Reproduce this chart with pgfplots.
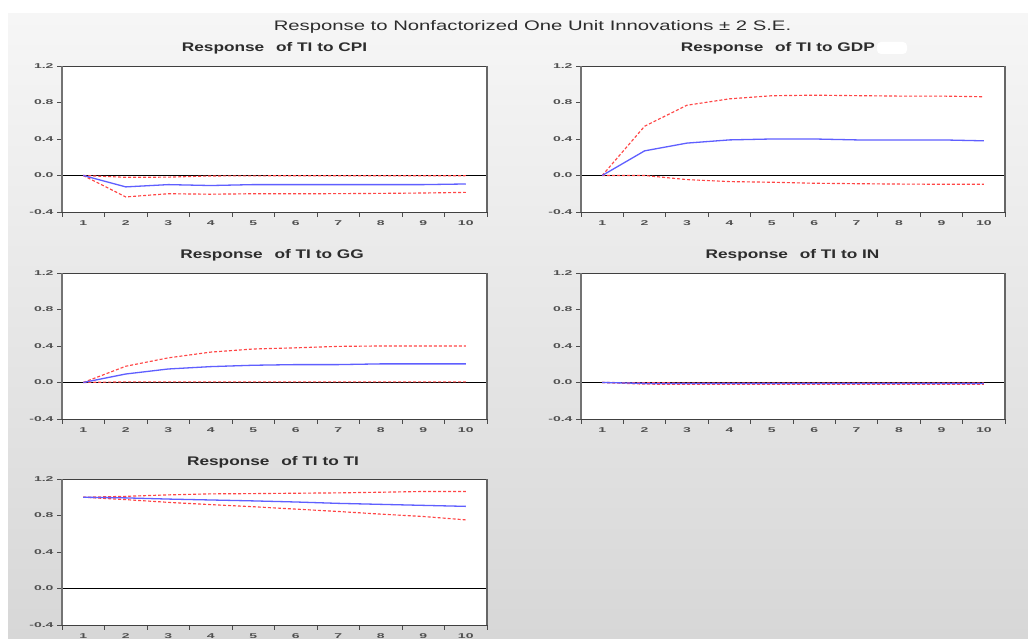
\documentclass[border=0pt]{standalone}
\usepackage{fontspec}
\setmainfont{Liberation Sans}
\newfontfamily\titlefont[FakeStretch=1.47]{Liberation Sans}
\newfontfamily\subfont[FakeStretch=1.38]{Liberation Sans}
\newfontfamily\tickfont[FakeStretch=2.0]{Liberation Sans}
\usepackage{pgfplots}
\usepackage{pgfplotstable}
\pgfplotsset{compat=1.18}
\definecolor{irfblue}{RGB}{95,95,255}
\definecolor{irfred}{RGB}{255,70,70}
\definecolor{tickgray}{RGB}{80,80,80}
\definecolor{titlegray}{RGB}{45,45,45}

% step  response  lower  upper
\pgfplotstableread{
x r lo hi
1 0 0 0
2 -0.125 -0.235 -0.020
3 -0.100 -0.200 -0.018
4 -0.110 -0.205 -0.005
5 -0.100 -0.200 -0.004
6 -0.100 -0.200 -0.003
7 -0.100 -0.199 -0.003
8 -0.100 -0.196 -0.003
9 -0.100 -0.192 -0.003
10 -0.093 -0.185 -0.002
}\cpi
\pgfplotstableread{
x r lo hi
1 0 0 0
2 0.270 0.000 0.540
3 0.355 -0.045 0.770
4 0.390 -0.067 0.840
5 0.400 -0.074 0.874
6 0.400 -0.085 0.880
7 0.390 -0.090 0.875
8 0.390 -0.094 0.870
9 0.390 -0.096 0.870
10 0.380 -0.096 0.863
}\gdp
\pgfplotstableread{
x r lo hi
1 0 0 0
2 0.093 0.007 0.178
3 0.148 0.007 0.270
4 0.174 0.007 0.333
5 0.189 0.007 0.367
6 0.196 0.007 0.380
7 0.196 0.007 0.396
8 0.204 0.007 0.400
9 0.204 0.007 0.400
10 0.204 0.007 0.400
}\gg
\pgfplotstableread{
x r lo hi
1 0 0 0
2 -0.010 -0.018 -0.003
3 -0.012 -0.020 -0.004
4 -0.012 -0.020 -0.004
5 -0.012 -0.020 -0.004
6 -0.012 -0.020 -0.004
7 -0.012 -0.020 -0.004
8 -0.012 -0.020 -0.004
9 -0.012 -0.020 -0.004
10 -0.012 -0.020 -0.004
}\inn
\pgfplotstableread{
x r lo hi
1 1.000 1.000 1.000
2 0.993 0.974 1.010
3 0.980 0.944 1.026
4 0.970 0.919 1.037
5 0.960 0.896 1.040
6 0.948 0.870 1.044
7 0.933 0.844 1.048
8 0.922 0.815 1.055
9 0.911 0.789 1.063
10 0.900 0.752 1.063
}\ti

\pgfplotsset{
  irf/.style={
    scale only axis, width=425pt, height=146pt, anchor=south west,
    xmin=0.5, xmax=10.5, ymin=-0.4, ymax=1.2,
    xtick={0.5,1.5,2.5,3.5,4.5,5.5,6.5,7.5,8.5,9.5,10.5},
    x tick label as interval,
    xticklabels={1,2,3,4,5,6,7,8,9,10},
    ytick={-0.4,0,0.4,0.8,1.2},
    yticklabels={-0.4,0.0,0.4,0.8,1.2},
    xtick pos=bottom, ytick pos=left,
    tick align=outside, major tick length=5pt,
    tick style={black!70, line width=0.8pt},
    axis line style={black!75, line width=0.7pt},
    axis background/.style={fill=white},
    tick label style={font=\tickfont\bfseries\fontsize{7}{8}\selectfont, text=tickgray},
    /pgf/number format/assume math mode=true,
    clip=false,
  },
}
\tikzset{
  bandline/.style={draw=irfred, line width=1.15pt, dash pattern=on 3pt off 2pt},
  respline/.style={draw=irfblue, line width=1.3pt},
}

\newcommand{\panel}[3]{%
  \begin{axis}[irf, at={#1}, width=#3]
    \addplot[draw=black, line width=0.7pt] coordinates {(0.5,0) (10.5,0)};
    \addplot[bandline] table[x=x, y=hi] {#2};
    \addplot[bandline] table[x=x, y=lo] {#2};
    \addplot[respline] table[x=x, y=r] {#2};
    \draw[black!55, line width=2pt] (rel axis cs:0,0) -- (rel axis cs:0,1);
    \draw[black!60, line width=1.8pt] (rel axis cs:1,0) -- (rel axis cs:1,1);
  \end{axis}}

\newcommand{\subtitle}[1]{{\subfont\bfseries\fontsize{12.5}{14}\selectfont\color{titlegray}Response\hspace{7pt} of TI to #1}}

\begin{document}
\begin{tikzpicture}[x=1pt, y=1pt]
  \path[use as bounding box] (0,0) rectangle (1028,639);
  \clip (0,0) rectangle (1028,639);
  \fill[white] (0,0) rectangle (1028,639);
  \shade[top color={rgb,255:red,246;green,246;blue,246}, bottom color={rgb,255:red,215;green,215;blue,215}] (8,0) rectangle (1028,625);

  \node[text=titlegray] at (532.5,612) {\titlefont\fontsize{13.8}{15}\selectfont Response to Nonfactorized One Unit Innovations ± 2 S.E.};

  \node at (274.5,591) {\subtitle{CPI}};
  \node[anchor=east, inner sep=0pt] at (875,591) {\subtitle{GDP}};
  \fill[white, rounded corners=4pt] (877,585) rectangle (907,597);
  \node at (272,384) {\subtitle{GG}};
  \node at (792.5,384) {\subtitle{IN}};
  \node at (273,177) {\subtitle{TI}};

  \panel{(62pt,427pt)}{\cpi}{425pt}
  \panel{(581pt,427pt)}{\gdp}{424pt}
  \panel{(62pt,220pt)}{\gg}{425pt}
  \panel{(581pt,220pt)}{\inn}{424pt}
  \panel{(62pt,14pt)}{\ti}{425pt}
\end{tikzpicture}
\end{document}
